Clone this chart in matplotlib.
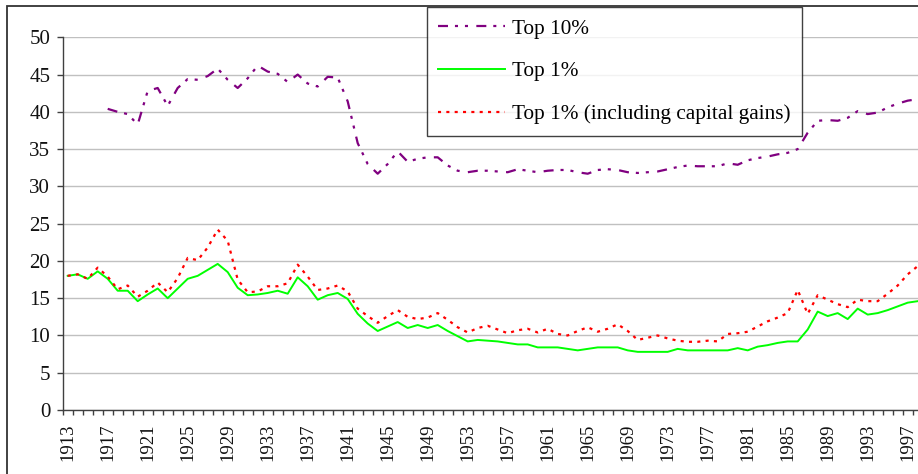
import numpy as np
import matplotlib
matplotlib.use("Agg")
import matplotlib.pyplot as plt
from matplotlib.patches import Rectangle

# Top income shares in the US (%)
years = list(range(1913, 1999))
top10_years = list(range(1917, 1999))

top10 = [
    40.4, 40.0, 39.7, 38.3, 42.8, 43.2, 40.8, 43.2, 44.4, 44.3,
    44.8, 45.8, 44.3, 43.2, 44.5, 46.2, 45.4, 45.1, 44.0, 45.0,
    43.8, 43.4, 44.7, 44.6, 41.4, 35.8, 33.0, 31.7, 33.0, 34.7,
    33.3, 33.7, 33.9, 33.9, 32.8, 32.1, 31.9, 32.1, 32.1, 32.0,
    31.9, 32.3, 32.1, 31.9, 32.1, 32.2, 32.2, 31.9, 31.7, 32.2,
    32.3, 32.2, 31.9, 31.8, 31.9, 32.0, 32.3, 32.6, 32.8, 32.7,
    32.7, 32.7, 33.1, 32.9, 33.5, 33.8, 34.0, 34.3, 34.5, 35.0,
    37.2, 38.8, 38.9, 38.8, 39.2, 40.1, 39.7, 39.9, 40.6, 41.1,
    41.5, 41.7,
]

top1 = [
    18.0, 18.2, 17.6, 18.6, 17.6, 16.0, 16.0, 14.6, 15.5, 16.3,
    15.0, 16.3, 17.6, 18.0, 18.8, 19.6, 18.5, 16.4, 15.4, 15.5,
    15.7, 16.0, 15.6, 17.8, 16.6, 14.8, 15.4, 15.7, 14.9, 12.9,
    11.6, 10.6, 11.2, 11.8, 11.0, 11.4, 11.0, 11.4, 10.6, 9.9,
    9.2, 9.4, 9.3, 9.2, 9.0, 8.8, 8.8, 8.4, 8.4, 8.4,
    8.2, 8.0, 8.2, 8.4, 8.4, 8.4, 8.0, 7.8, 7.8, 7.8,
    7.8, 8.2, 8.0, 8.0, 8.0, 8.0, 8.0, 8.3, 8.0, 8.5,
    8.7, 9.0, 9.2, 9.2, 10.8, 13.2, 12.6, 13.0, 12.2, 13.6,
    12.8, 13.0, 13.4, 13.9, 14.4, 14.6,
]

top1_kg = [
    18.0, 18.2, 17.6, 19.1, 17.9, 16.2, 16.7, 15.2, 16.0, 17.1,
    15.8, 17.7, 20.4, 20.1, 21.8, 24.2, 22.7, 17.5, 15.8, 15.9,
    16.6, 16.6, 17.0, 19.5, 17.9, 16.1, 16.3, 16.7, 15.9, 13.6,
    12.6, 11.7, 12.6, 13.4, 12.5, 12.2, 12.4, 13.0, 12.1, 11.1,
    10.4, 11.0, 11.3, 10.8, 10.3, 10.7, 10.9, 10.4, 10.9, 10.2,
    10.0, 10.6, 11.1, 10.5, 10.9, 11.5, 10.6, 9.4, 9.7, 10.0,
    9.6, 9.3, 9.15, 9.15, 9.3, 9.2, 10.2, 10.3, 10.5, 11.2,
    11.9, 12.4, 13.0, 16.1, 12.9, 15.4, 14.8, 14.2, 13.8, 14.8,
    14.6, 14.6, 15.6, 16.7, 18.2, 19.3,
]

labels = ["Top 10%", "Top 1%", "Top 1% (including capital gains)"]

plt.rcParams["font.family"] = ["Liberation Serif", "DejaVu Serif"]
plt.rcParams["lines.scale_dashes"] = False

W, H = 918, 474
fig = plt.figure(figsize=(W / 100, H / 100), dpi=100)
fig.patch.set_facecolor("white")

# chart area border (only left and top edges fall inside the picture)
fig.patches.append(Rectangle((7 / W, -0.5), 2.0, 0.5 + (H - 6) / H,
                             transform=fig.transFigure, fill=False,
                             edgecolor="#333333", linewidth=1.3))

ax = fig.add_axes([62.7 / W, 1 - 410 / H, 860 / W, (410 - 37.3) / H])

ax.plot(top10_years, top10, color="#800080", linewidth=1.6,
        linestyle=(0, (7.2, 5.0, 2.2, 5.0, 2.2, 6.0)), label=labels[0])
ax.plot(years, top1, color="#00FF00", linewidth=1.4, label=labels[1])
ax.plot(years, top1_kg, color="#FF0000", linewidth=1.6,
        linestyle=(0, (2.2, 3.8)), label=labels[2])

ax.set_xlim(1912.5, 1998.5)
ax.set_ylim(0, 50)
ax.set_yticks(np.arange(0, 51, 5))
ax.set_xticks(years[::4])
ax.set_xticks(np.arange(1912.5, 1999, 1), minor=True)

ax.yaxis.grid(True, color="#C0C0C0", linewidth=1)
ax.set_axisbelow(True)

for side in ["top", "right"]:
    ax.spines[side].set_visible(False)
for side in ["left", "bottom"]:
    ax.spines[side].set_color("#404040")
    ax.spines[side].set_linewidth(1)

ax.tick_params(axis="y", length=4.5, width=1, color="#404040",
               labelsize=15, pad=4.5, labelcolor="#111111")
ax.tick_params(axis="x", which="major", length=0, labelsize=13.5,
               labelrotation=90, pad=10, labelcolor="#111111")
ax.tick_params(axis="x", which="minor", length=3.6, width=1, color="#404040")

leg = ax.legend(loc="upper left", bbox_to_anchor=(426.7 / W, 1 - 7.3 / H),
                bbox_transform=fig.transFigure, borderaxespad=0,
                fontsize=15.3, frameon=True, fancybox=False,
                handlelength=3.15, handletextpad=0.3, labelspacing=1.07,
                borderpad=0.55)
leg.get_frame().set_edgecolor("#111111")
leg.get_frame().set_linewidth(1.0)

fig.savefig("out.png", dpi=100)
